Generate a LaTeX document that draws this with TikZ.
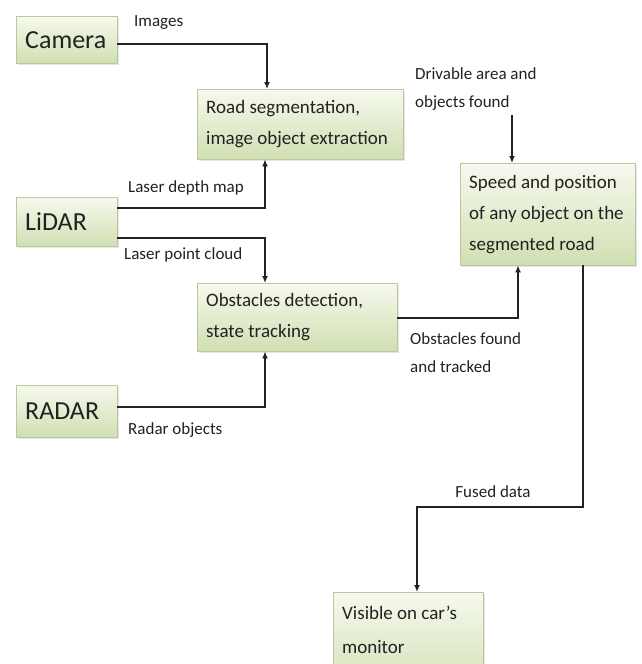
\documentclass[tikz,border=0pt]{standalone}
\usepackage{fontspec}
\setmainfont{Carlito}
\usetikzlibrary{arrows.meta, shadows}
\definecolor{boxtop}{HTML}{F6F9EE}
\definecolor{boxbot}{HTML}{D0DFB2}
\definecolor{boxedge}{HTML}{BCC7A0}
\definecolor{ink}{HTML}{222222}

\begin{document}
\begin{tikzpicture}[x=1pt, y=-1pt,
        box/.style={draw=boxedge, top color=boxtop, bottom color=boxbot, anchor=north west,
            align=flush left, inner xsep=9pt, inner ysep=0pt, text=ink,
            drop shadow={opacity=0.2, shadow xshift=1.5pt, shadow yshift=-1.5pt}},
        sensor/.style={box, text width=83pt, font=\fontsize{26}{30}\selectfont},
        stage/.style={box, font=\fontsize{19}{31}\selectfont},
        lbl/.style={inner sep=0pt, text=ink, align=flush left, font=\fontsize{17}{28}\selectfont},
        flow/.style={draw=ink, line width=1.5pt, -{Latex[length=7pt, width=6pt]}}]
        \useasboundingbox[fill=white] (0,0) rectangle (641,664);
        \node[sensor, minimum height=47pt] (camera) at (16,16) {Camera};
        \node[sensor, minimum height=49pt] (lidar) at (16,197) {LiDAR};
        \node[sensor, minimum height=52pt] (radar) at (16,385) {RADAR};
        \node[stage, text width=188pt, minimum height=70pt] (road) at (197,89) {Road segmentation,\\image object extraction};
        \node[stage, text width=182pt, minimum height=68pt] (obst) at (197,283) {Obstacles detection,\\state tracking};
        \node[stage, text width=157pt, minimum height=102pt] (speed) at (460,163) {Speed and position\\of any object on the\\segmented road};
        \node[stage, text width=132pt, inner ysep=7pt, text height=20pt, text depth=70pt,
            font=\fontsize{19}{34}\selectfont] (monitor) at (333,592) {Visible on car's\\monitor};
        \coordinate (camturn) at (267,44);
        \coordinate (depthturn) at (265,208);
        \coordinate (cloudturn) at (265,238);
        \coordinate (radarturn) at (265,407);
        \coordinate (obstturn) at (518,318);
        \coordinate (drvtop) at (512,115);
        \coordinate (fusedright) at (583,507);
        \coordinate (fusedleft) at (417,507);
        \draw[flow] (camera.east |- camturn) -- (camturn) -- (camturn |- road.north);
        \draw[flow] (lidar.east |- depthturn) -- (depthturn) -- (depthturn |- road.south);
        \draw[flow] (lidar.east |- cloudturn) -- (cloudturn) -- (cloudturn |- obst.north);
        \draw[flow] (radar.east |- radarturn) -- (radarturn) -- (radarturn |- obst.south);
        \draw[flow] (obst.east |- obstturn) -- (obstturn) -- (obstturn |- speed.south);
        \draw[flow] (drvtop) -- (drvtop |- speed.north);
        \draw[flow] (speed.south -| fusedright) -- (fusedright) -- (fusedleft) -- (fusedleft |- monitor.north);
        \node[lbl, anchor=west] (imglbl) at (134,23) {Images};
        \node[lbl, anchor=west] (depthlbl) at (128,188) {Laser depth map};
        \node[lbl, anchor=west] (cloudlbl) at (124,255) {Laser point cloud};
        \node[lbl, anchor=west] (radarlbl) at (128,430) {Radar objects};
        \node[lbl, anchor=west] (drvlbl) at (415,89) {Drivable area and\\objects found};
        \node[lbl, anchor=west] (obstlbl) at (410,353) {Obstacles found\\and tracked};
        \node[lbl] (fusedlbl) at (493,492) {Fused data};
\end{tikzpicture}
\end{document}
